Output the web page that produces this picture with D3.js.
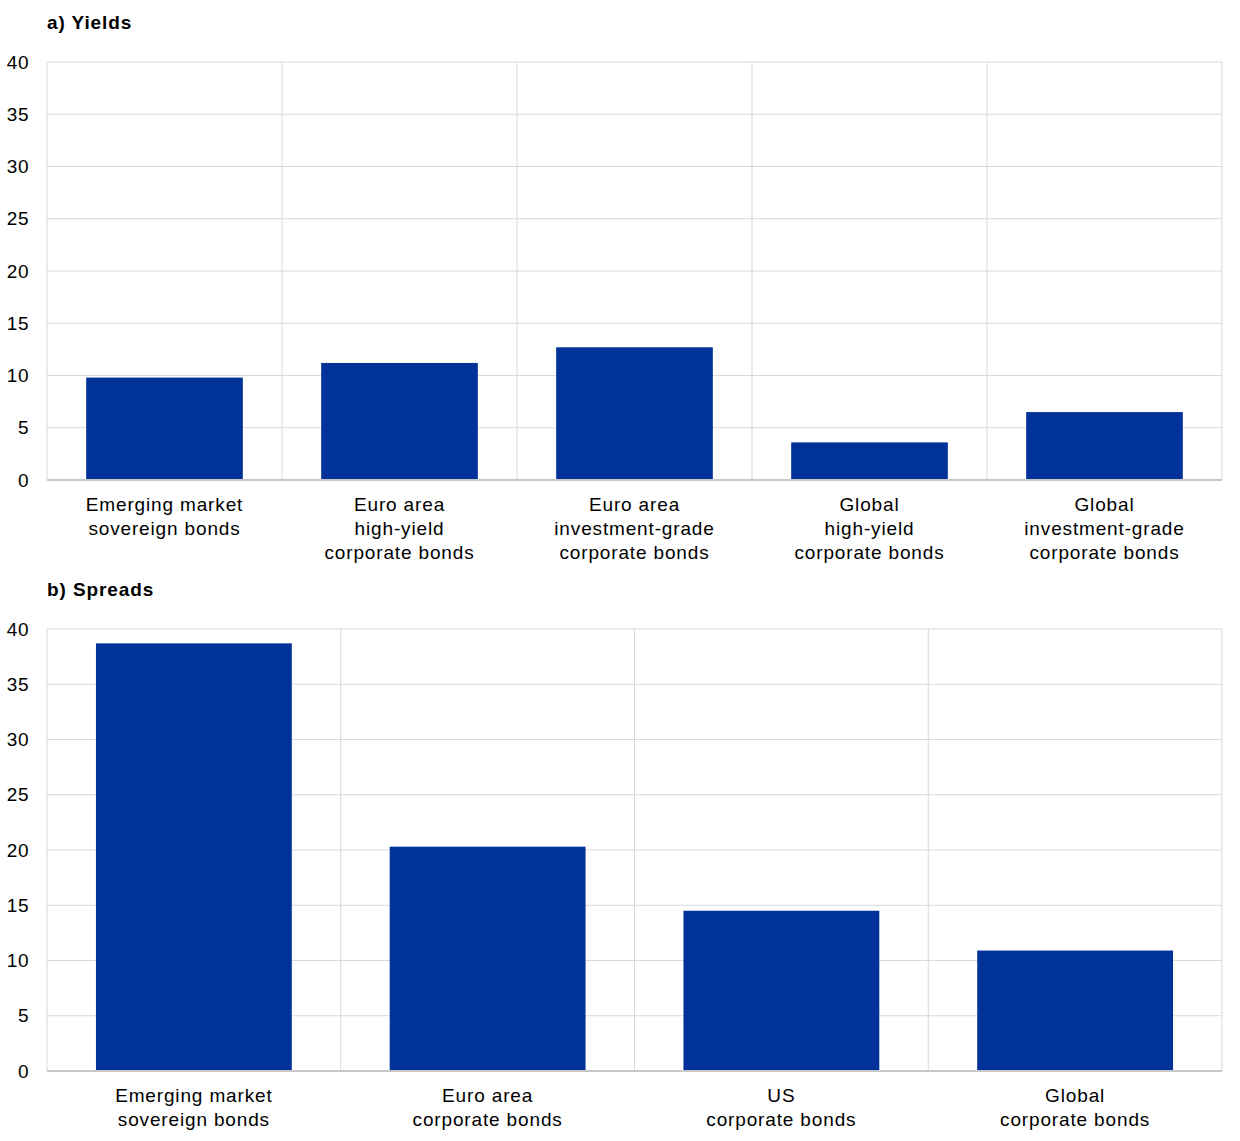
<!DOCTYPE html>
<html><head><meta charset="utf-8">
<script src="https://cdn.jsdelivr.net/npm/d3@7"></script>
<style>body{margin:0;background:#fff;} text{font-family:"Liberation Sans",Arial,sans-serif;}</style>
</head><body>
<svg id="c" width="1240" height="1141"></svg>
<script>
const yieldCategories = [
  ["Emerging market","sovereign bonds"],
  ["Euro area","high-yield","corporate bonds"],
  ["Euro area","investment-grade","corporate bonds"],
  ["Global","high-yield","corporate bonds"],
  ["Global","investment-grade","corporate bonds"]
];
const yieldValues = [9.8, 11.2, 12.7, 3.6, 6.5];
const spreadCategories = [
  ["Emerging market","sovereign bonds"],
  ["Euro area","corporate bonds"],
  ["US","corporate bonds"],
  ["Global","corporate bonds"]
];
const spreadValues = [38.7, 20.3, 14.5, 10.9];
const yTicks = [0,5,10,15,20,25,30,35,40];
const titles = ["a) Yields","b) Spreads"];

const svg = d3.select("#c");
const color = "#003299";
const grid = "#d9d9d9";

function panel(title, cats, vals, top, bottom, titleY){
  const left = 47, right = 1222;
  const g = svg.append("g");
  g.append("text").attr("x",left).attr("y",titleY).attr("font-size",19).attr("font-weight","bold").attr("letter-spacing","0.9px").text(title);
  const x = d3.scaleBand().domain(d3.range(cats.length)).range([left,right]).paddingInner(1/3).paddingOuter(1/6);
  const y = d3.scaleLinear().domain([0,40]).range([bottom,top]);
  g.selectAll("line.h").data(yTicks).join("line")
    .attr("x1",left).attr("x2",right).attr("y1",d=>y(d)).attr("y2",d=>y(d))
    .attr("stroke",grid).attr("stroke-width",1);
  const seps = d3.range(cats.length+1).map(i=>left+i*(right-left)/cats.length);
  g.selectAll("line.v").data(seps).join("line")
    .attr("x1",d=>d).attr("x2",d=>d).attr("y1",top).attr("y2",bottom)
    .attr("stroke",grid).attr("stroke-width",1);
  g.selectAll("rect").data(vals).join("rect")
    .attr("x",(d,i)=>x(i)).attr("width",x.bandwidth())
    .attr("y",d=>y(d)).attr("height",d=>bottom-y(d))
    .attr("fill",color);
  g.append("line").attr("x1",left).attr("x2",right).attr("y1",bottom).attr("y2",bottom).attr("stroke","#c8c8c8").attr("stroke-width",2);
  const ya = d3.axisLeft(y).tickValues(yTicks).tickSize(0).tickPadding(18);
  const ag = g.append("g").attr("transform",`translate(${left},0)`).call(ya);
  ag.select(".domain").remove();
  ag.selectAll("text").attr("font-size",19).attr("fill","#000").attr("letter-spacing","0.5px").attr("font-family","'Liberation Sans',Arial,sans-serif");
  cats.forEach((lines,i)=>{
    const cx = x(i)+x.bandwidth()/2;
    const t = g.append("text").attr("x",cx).attr("y",bottom+31).attr("text-anchor","middle").attr("font-size",19).attr("letter-spacing","0.85px");
    lines.forEach((l,j)=>t.append("tspan").attr("x",cx).attr("dy",j?24:0).text(l));
  });
}
panel(titles[0], yieldCategories, yieldValues, 62, 480, 29);
panel(titles[1], spreadCategories, spreadValues, 629, 1071, 596);
</script>
</body></html>
